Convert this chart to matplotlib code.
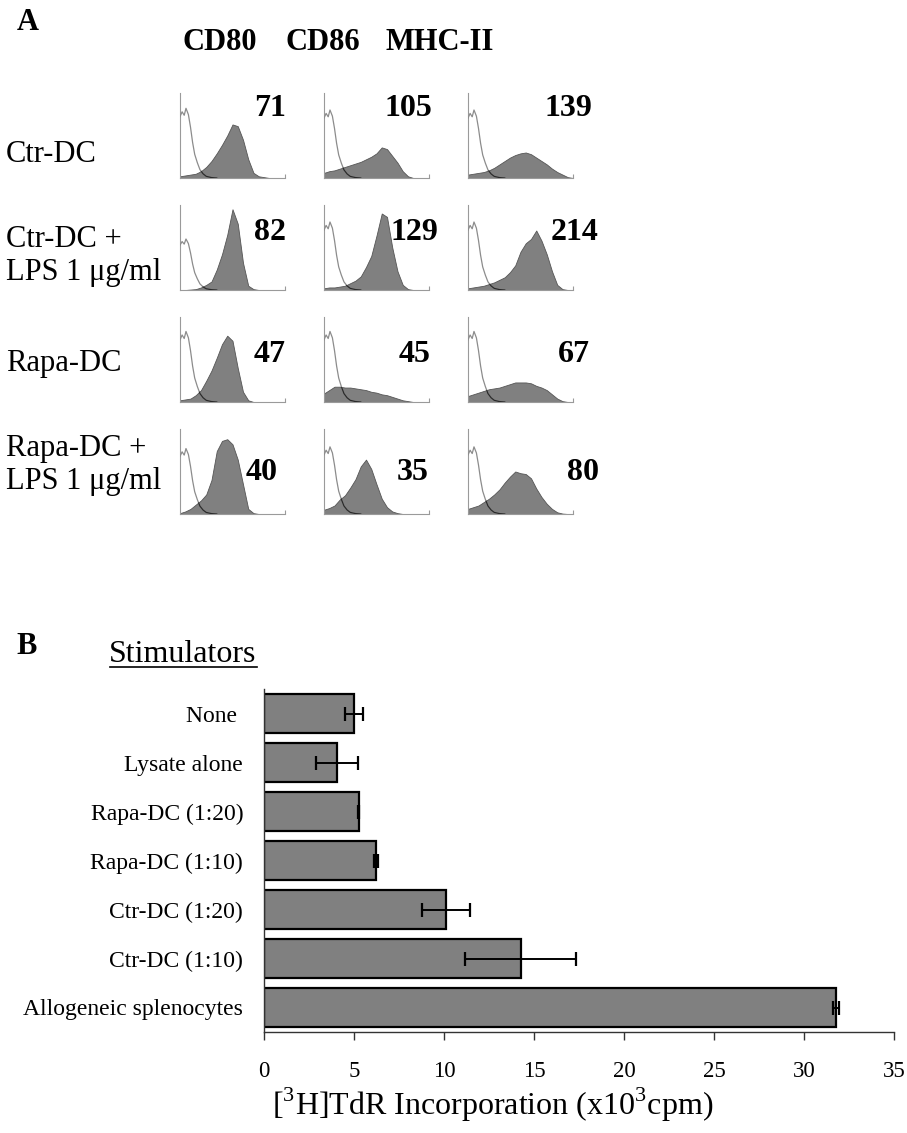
import numpy as np
import matplotlib.pyplot as plt

plt.rcParams['font.family'] = ['Liberation Serif', 'DejaVu Serif']
plt.rcParams['mathtext.fontset'] = 'custom'
plt.rcParams['mathtext.rm'] = 'Liberation Serif'

# ---- panel A: flow cytometry histograms ----
markers = ['CD80', 'CD86', 'MHC-II']
conditions = ['Ctr-DC', 'Ctr-DC +\nLPS 1 \u03bcg/ml', 'Rapa-DC', 'Rapa-DC +\nLPS 1 \u03bcg/ml']
mfi = [[71, 105, 139],
       [82, 129, 214],
       [47, 45, 67],
       [40, 35, 80]]

# fluorescence channel positions (fraction of the log scale) for the stained samples
channel = np.linspace(0, 1, 21)

# counts in % of the y range, one list per panel
ctr_cd80 = [2, 3, 4, 5, 8, 13, 20, 29, 39, 50, 63, 61, 45, 22, 6, 2, 1, 0, 0, 0, 0]
ctr_cd86 = [6, 8, 9, 11, 13, 15, 17, 19, 22, 25, 29, 36, 34, 26, 18, 8, 2, 0, 0, 0, 0]
ctr_mhc = [4, 5, 6, 7, 9, 12, 16, 20, 24, 27, 29, 30, 28, 24, 20, 16, 11, 7, 4, 1, 0]
lps_cd80 = [0, 0, 0.5, 1, 3, 6, 10, 24, 42, 65, 95, 78, 32, 5, 1, 0, 0, 0, 0, 0, 0]
lps_cd86 = [2, 3, 3, 4, 5, 8, 11, 16, 27, 40, 64, 90, 86, 50, 22, 6, 1, 0, 0, 0, 0]
lps_mhc = [2, 3, 4, 5, 7, 9, 12, 15, 21, 29, 45, 55, 60, 70, 58, 42, 22, 6, 1, 0, 0]
rapa_cd80 = [2, 3, 4, 8, 14, 25, 37, 52, 68, 78, 72, 40, 12, 2, 0, 0, 0, 0, 0, 0, 0]
rapa_cd86 = [10, 14, 18, 18, 17, 17, 16, 15, 14, 12, 11, 9, 8, 6, 4, 2, 1, 0, 0, 0, 0]
rapa_mhc = [7, 9, 11, 13, 15, 16, 17, 19, 21, 23, 23, 23, 22, 19, 17, 14, 9, 4, 1, 0, 0]
rlps_cd80 = [1, 3, 6, 11, 16, 23, 40, 74, 86, 88, 82, 64, 35, 6, 1, 0, 0, 0, 0, 0, 0]
rlps_cd86 = [5, 7, 10, 17, 22, 31, 41, 56, 64, 53, 35, 18, 8, 3, 1, 0, 0, 0, 0, 0, 0]
rlps_mhc = [6, 8, 10, 14, 18, 23, 29, 37, 44, 50, 48, 47, 42, 30, 20, 12, 6, 2, 0.5, 0, 0]

stained = [[ctr_cd80, ctr_cd86, ctr_mhc],
           [lps_cd80, lps_cd86, lps_mhc],
           [rapa_cd80, rapa_cd86, rapa_mhc],
           [rlps_cd80, rlps_cd86, rlps_mhc]]

# isotype control: shape (peak = 100) and its height in each panel
iso_x = [0, 0.02, 0.04, 0.057, 0.08, 0.10, 0.12, 0.14, 0.165, 0.19, 0.22, 0.25, 0.30, 0.35]
iso_shape = [88, 95, 90, 100, 91, 73, 51, 34, 22, 12, 6, 2.4, 0.6, 0]
iso_peak = [[82, 80, 80],
            [60, 80, 80],
            [83, 83, 83],
            [77, 79, 79]]

# ---- panel B: proliferation ----
stimulators = ['None ', 'Lysate alone', 'Rapa-DC (1:20)', 'Rapa-DC (1:10)',
               'Ctr-DC (1:20)', 'Ctr-DC (1:10)', 'Allogeneic splenocytes']
cpm = [5.0, 4.05, 5.25, 6.22, 10.13, 14.27, 31.78]
cpm_err = [0.48, 1.15, 0.05, 0.12, 1.34, 3.09, 0.15]

W, H = 907, 1133
fig = plt.figure(figsize=(W / 100, H / 100), dpi=100)


def px_axes(left, top, width, height):
    return fig.add_axes([left / W, 1 - (top + height) / H, width / W, height / H])


def fig_text(x, y, s, **kw):
    fig.text(x / W, 1 - y / H, s, **kw)


col_left = [180, 324, 468]
row_top = [93, 205, 317, 429]
num_pos = [[(270, 108), (408, 108), (568, 108)],
           [(270, 233), (414, 233), (575, 233)],
           [(270, 355), (415, 355), (574, 355)],
           [(262, 473), (413, 473), (583, 473)]]

fig_text(28, 23, 'A', fontsize=22, fontweight='bold', ha='center', va='center')
for x, m in zip([220, 323, 440], markers):
    fig_text(x, 43, m, fontsize=22, fontweight='bold', ha='center', va='center')

for y, c in zip([155, 256, 364, 465], conditions):
    fig_text(6, y, c, fontsize=22, ha='left', va='center', linespacing=1.15)

for r in range(4):
    for c in range(3):
        ax = px_axes(col_left[c], row_top[r], 105, 85)
        h = np.array(stained[r][c])
        poly = ax.fill_between(channel, 0, h, facecolor='#808080',
                               edgecolor='#555555', linewidth=0.6, zorder=2)
        iso = np.array(iso_shape) * iso_peak[r][c] / 100
        ax.plot(iso_x, iso, color='#8c8c8c', linewidth=0.9, zorder=3)
        # the part of the isotype curve lying over the filled peak shows dark
        dark, = ax.plot(iso_x, iso, color='#2a2a2a', linewidth=0.9, zorder=4)
        dark.set_clip_path(poly.get_paths()[0], ax.transData)
        ax.set_xlim(0, 1)
        ax.set_ylim(0, 100)
        for s in ['top', 'right']:
            ax.spines[s].set_visible(False)
        for s in ['left', 'bottom']:
            ax.spines[s].set_color('#9a9a9a')
            ax.spines[s].set_linewidth(0.8)
        ax.set_xticks([1])
        ax.set_xticklabels([])
        ax.tick_params(axis='x', direction='in', length=3, color='#9a9a9a', width=0.8)
        ax.set_yticks([])
        nx, ny = num_pos[r][c]
        fig_text(nx, ny, str(mfi[r][c]), fontsize=23, fontweight='bold',
                 ha='center', va='center')

# ---- panel B ----
fig_text(27, 647, 'B', fontsize=22, fontweight='bold', ha='center', va='center')
fig_text(183, 655, 'Stimulators', fontsize=23, ha='center', va='center')
fig.add_artist(plt.Line2D([110 / W, 257 / W], [1 - 667 / H, 1 - 667 / H],
                          color='black', linewidth=1.2))

axb = px_axes(264, 689, 630, 343)
ypos = np.arange(len(stimulators))
axb.barh(ypos, cpm, height=0.78, color='#808080', edgecolor='black', linewidth=1.6,
         xerr=cpm_err, error_kw=dict(ecolor='black', elinewidth=1.4, capsize=4.8,
                                     capthick=1.6))
axb.set_ylim(6.5, -0.5)
axb.set_xlim(0, 35)
axb.set_xticks(np.arange(0, 36, 5))
axb.set_yticks(ypos)
axb.set_yticklabels(stimulators, fontsize=17)
axb.tick_params(axis='y', length=0, pad=15)
axb.tick_params(axis='x', direction='out', length=6, width=1, labelsize=16.5, pad=15,
                color='#333333')
for s in ['top', 'right']:
    axb.spines[s].set_visible(False)
for s in ['left', 'bottom']:
    axb.spines[s].set_color('#333333')
    axb.spines[s].set_linewidth(1)

fig_text(272, 1105, r'[$^\mathrm{3}$H]TdR Incorporation (x10$^\mathrm{3}$cpm)',
         fontsize=23, ha='left', va='center')

fig.savefig('out.png', dpi=100)
